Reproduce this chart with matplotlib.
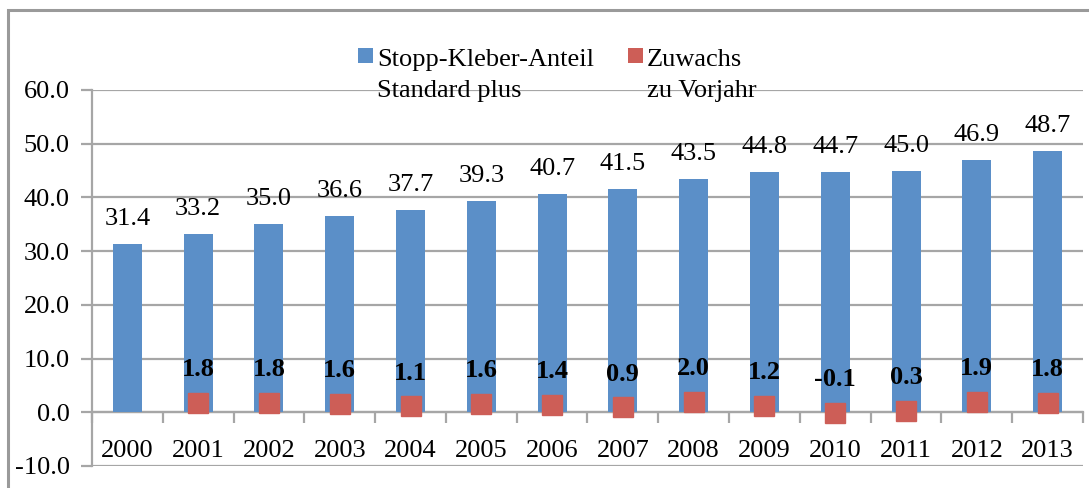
import matplotlib
matplotlib.use("Agg")
import matplotlib.pyplot as plt
from matplotlib.patches import Rectangle

years = ["2000", "2001", "2002", "2003", "2004", "2005", "2006",
         "2007", "2008", "2009", "2010", "2011", "2012", "2013"]
share = [31.4, 33.2, 35.0, 36.6, 37.7, 39.3, 40.7, 41.5, 43.5, 44.8, 44.7, 45.0, 46.9, 48.7]
growth = [1.8, 1.8, 1.6, 1.1, 1.6, 1.4, 0.9, 2.0, 1.2, -0.1, 0.3, 1.9, 1.8]
yticks = [-10, 0, 10, 20, 30, 40, 50, 60]
legend_labels = [["Stopp-Kleber-Anteil", "Standard plus"], ["Zuwachs", "zu Vorjahr"]]

BLUE = "#5B8FC8"
RED = "#CD5E57"
GRID = "#A6A6A6"
plt.rcParams['font.family'] = ['Liberation Serif', 'DejaVu Serif']
FS = 19

W, H = 1089, 488
fig = plt.figure(figsize=(W / 100, H / 100), dpi=100)

# outer frame
fig.patches.append(Rectangle((8 / W, -0.1), 1.2, (H - 10) / H + 0.1, transform=fig.transFigure,
                             fill=False, edgecolor="#9A9A9A", linewidth=2.2))

ax = fig.add_axes([92 / W, (H - 466) / H, (1083 - 92) / W, (466 - 90) / H])
x = list(range(len(years)))
ax.bar(x, share, width=0.41, color=BLUE, zorder=3)
gx = x[1:]
ax.plot(gx, growth, linestyle="none", marker="s", markersize=14, color=RED, zorder=4)

for xi, v in zip(x, share):
    ax.annotate(f"{v:.1f}", (xi, v), xytext=(0, 18), textcoords="offset points",
                ha="center", va="center", fontsize=FS)
for xi, v in zip(gx, growth):
    ax.annotate(f"{v:.1f}", (xi, v), xytext=(0, 24), textcoords="offset points",
                ha="center", va="center", fontsize=FS, fontweight="bold", zorder=5)

ax.set_xlim(-0.5, len(years) - 0.5)
ax.set_ylim(-10, 60)
ax.set_yticks(yticks)
ax.set_yticklabels([f"{t:.1f}" for t in yticks], fontsize=FS)
ax.grid(axis="y", color=GRID, linewidth=1.6, zorder=0)
ax.set_axisbelow(True)

for s in ["top", "right"]:
    ax.spines[s].set_visible(False)
ax.spines["left"].set_color(GRID)
ax.spines["left"].set_linewidth(1.6)
ax.spines["bottom"].set_position(("data", 0))
ax.spines["bottom"].set_color(GRID)
ax.spines["bottom"].set_linewidth(1.6)
ax.spines["bottom"].set_zorder(2)

ax.tick_params(axis="y", length=8, width=1.6, color=GRID, pad=8)
ax.set_xticks(x)
ax.set_xticklabels(years, fontsize=FS)
ax.tick_params(axis="x", which="major", length=0, pad=20)
ax.set_xticks([i + 0.5 for i in range(-1, len(years))], minor=True)
ax.tick_params(axis="x", which="minor", length=8, width=1.6, color=GRID, direction="out")

# legend (drawn manually so the key aligns with the first text line)
handles_colors = [BLUE, RED]
key_x = [358, 628]
for kx, col, lines in zip(key_x, handles_colors, legend_labels):
    fig.patches.append(Rectangle((kx / W, (H - 63) / H), 15 / W, 15 / H,
                                 transform=fig.transFigure, facecolor=col, edgecolor="none"))
    for i, line in enumerate(lines):
        fig.text((kx + 19) / W, (H - 66 - 31 * i) / H, line, fontsize=FS,
                 ha="left", va="baseline")

fig.savefig("out.png", dpi=100)
